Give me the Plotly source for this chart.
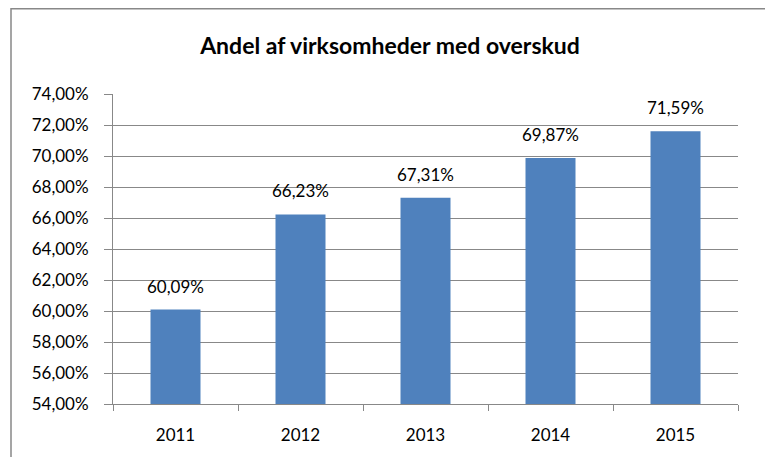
import plotly.graph_objects as go

years = ["2011", "2012", "2013", "2014", "2015"]
values = [60.09, 66.23, 67.31, 69.87, 71.59]
bar_labels = ["60,09%", "66,23%", "67,31%", "69,87%", "71,59%"]
tick_vals = [54, 56, 58, 60, 62, 64, 66, 68, 70, 72, 74]
tick_labels = ["54,00%", "56,00%", "58,00%", "60,00%", "62,00%", "64,00%",
               "66,00%", "68,00%", "70,00%", "72,00%", "74,00%"]

FONT = "Lato"
GRID = "#888888"

pos = list(range(len(years)))

fig = go.Figure()
fig.add_trace(go.Bar(x=pos, y=values, marker=dict(color="#4F81BD", line=dict(width=0)),
                     width=0.4, hoverinfo="skip"))

for x, v, t in zip(pos, values, bar_labels):
    fig.add_annotation(x=x, y=v, xref="x", yref="y", text=t, showarrow=False,
                       yanchor="bottom", yshift=11,
                       font=dict(family=FONT, size=17, color="#000000"))

L, R, T, B = 113, 27, 94, 50
W, H = 765, 457
pw, ph = W - L - R, H - T - B

fig.add_shape(type="rect", xref="paper", yref="paper",
              x0=(11 - L) / pw, x1=(775 - L) / pw,
              y0=-(470 - (H - B)) / ph, y1=1 + (T - 8) / ph,
              line=dict(color="#888888", width=1.5), fillcolor="rgba(0,0,0,0)", layer="below")

fig.update_layout(
    width=W, height=H,
    margin=dict(l=L, r=R, t=T, b=B),
    paper_bgcolor="white", plot_bgcolor="white",
    showlegend=False,
    title=dict(text="<b>Andel af virksomheder med overskud</b>", x=390 / W, xanchor="center",
               y=1 - 46 / H, yanchor="middle",
               font=dict(family=FONT, size=23, color="#000000")),
    xaxis=dict(range=[-0.5, len(years) - 0.5], tickvals=pos, ticktext=years,
               showgrid=False, showline=True, linecolor=GRID, linewidth=1,
               ticks="", zeroline=False,
               minor=dict(tick0=-0.5, dtick=1, ticks="outside", ticklen=6,
                          tickcolor=GRID, showgrid=False),
               tickfont=dict(family=FONT, size=17, color="#000000"),
               ticklabelstandoff=16),
    yaxis=dict(range=[54, 74], tickvals=tick_vals, ticktext=tick_labels,
               showgrid=True, gridcolor=GRID, gridwidth=1,
               showline=True, linecolor=GRID, linewidth=1,
               ticks="outside", ticklen=8, tickcolor=GRID,
               tickfont=dict(family=FONT, size=17, color="#000000"),
               ticklabelstandoff=12, zeroline=False),
)

fig.write_html("out.html", config={"displayModeBar": False},
               post_script="document.body.style.margin='0px';document.body.style.overflow='hidden';")
